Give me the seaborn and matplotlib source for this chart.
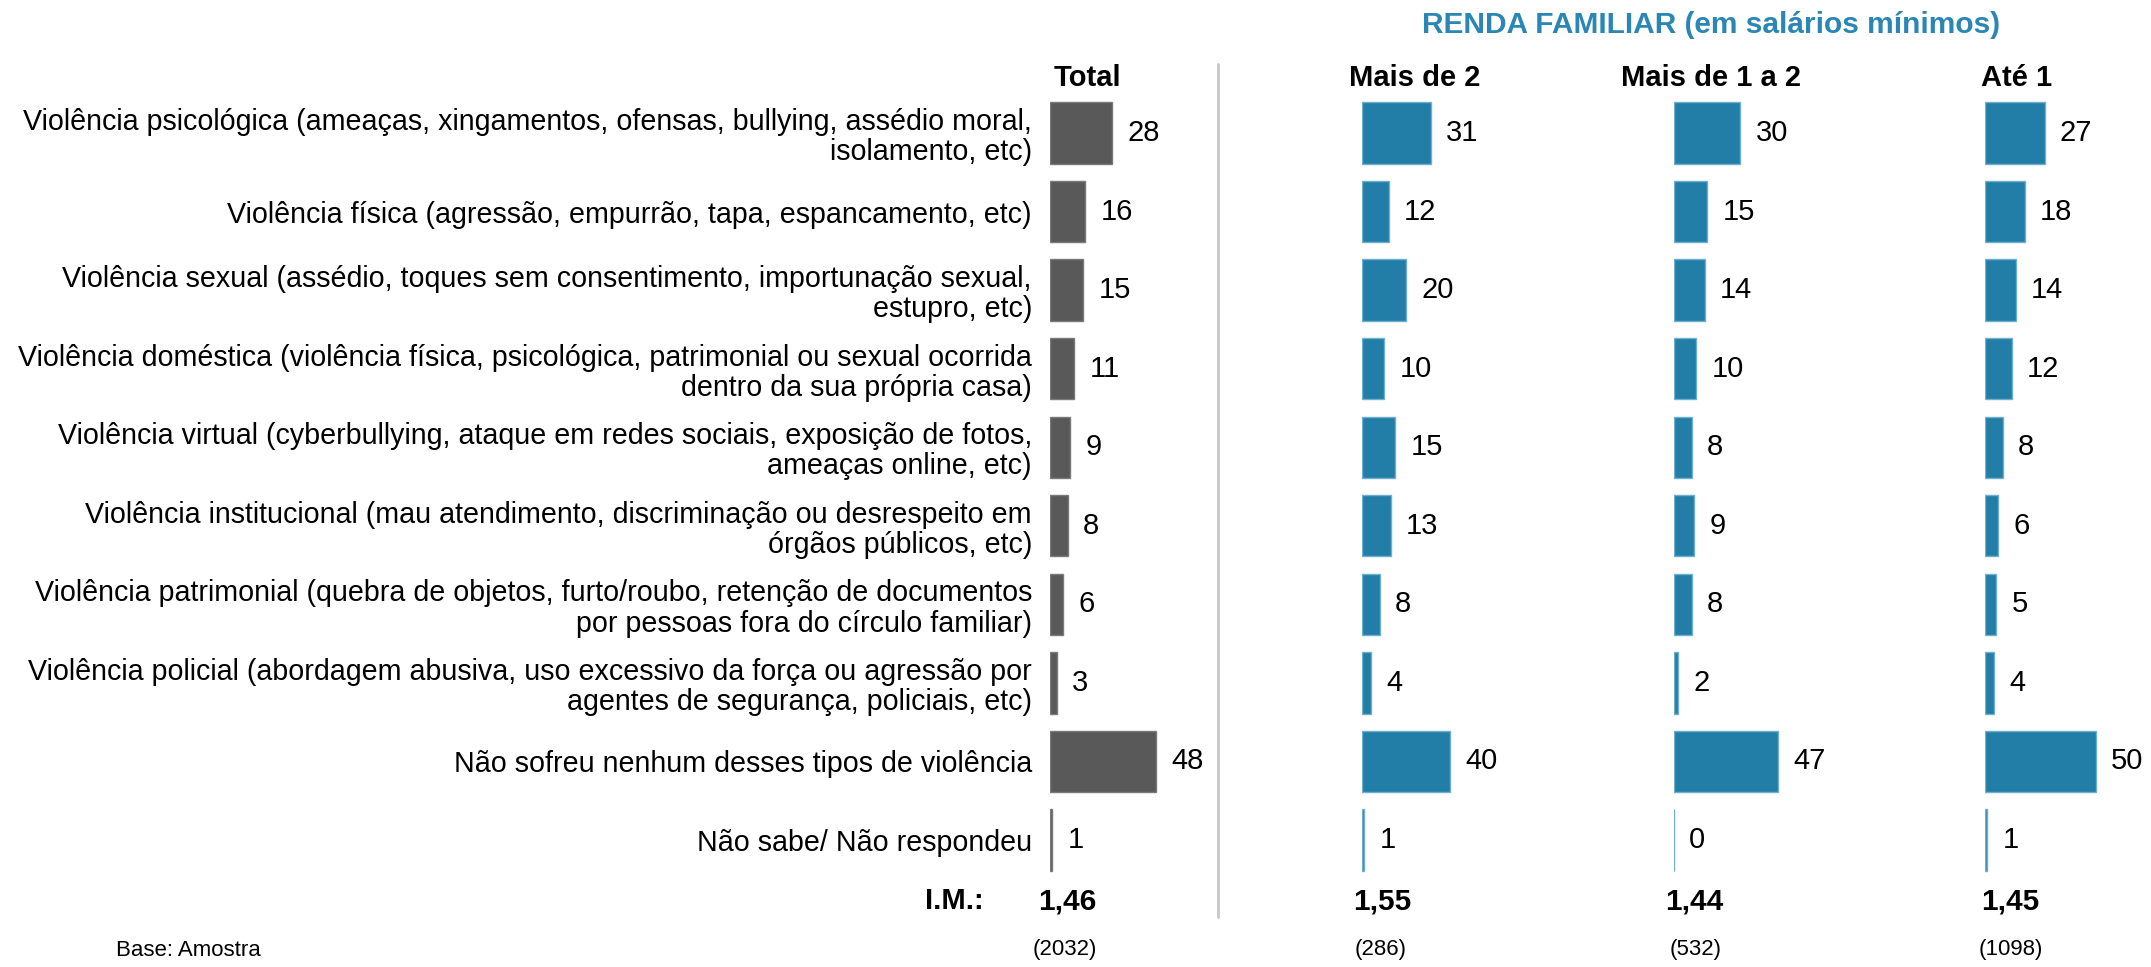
import pandas as pd
import numpy as np
import matplotlib
matplotlib.use("Agg")
import matplotlib.pyplot as plt
from matplotlib.lines import Line2D
import seaborn as sns

categories = [
    "Violência psicológica (ameaças, xingamentos, ofensas, bullying, assédio moral,\nisolamento, etc)",
    "Violência física (agressão, empurrão, tapa, espancamento, etc)",
    "Violência sexual (assédio, toques sem consentimento, importunação sexual,\nestupro, etc)",
    "Violência doméstica (violência física, psicológica, patrimonial ou sexual ocorrida\ndentro da sua própria casa)",
    "Violência virtual (cyberbullying, ataque em redes sociais, exposição de fotos,\nameaças online, etc)",
    "Violência institucional (mau atendimento, discriminação ou desrespeito em\nórgãos públicos, etc)",
    "Violência patrimonial (quebra de objetos, furto/roubo, retenção de documentos\npor pessoas fora do círculo familiar)",
    "Violência policial (abordagem abusiva, uso excessivo da força ou agressão por\nagentes de segurança, policiais, etc)",
    "Não sofreu nenhum desses tipos de violência",
    "Não sabe/ Não respondeu",
]
groups = ["Total", "Mais de 2", "Mais de 1 a 2", "Até 1"]
total = [28, 16, 15, 11, 9, 8, 6, 3, 48, 1]
mais_de_2 = [31, 12, 20, 10, 15, 13, 8, 4, 40, 1]
mais_de_1_a_2 = [30, 15, 14, 10, 8, 9, 8, 2, 47, 0]
ate_1 = [27, 18, 14, 12, 8, 6, 5, 4, 50, 1]
im_values = ["1,46", "1,55", "1,44", "1,45"]
base_values = ["(2032)", "(286)", "(532)", "(1098)"]
title = "RENDA FAMILIAR (em salários mínimos)"

df = pd.DataFrame({"categoria": categories, "Total": total, "Mais de 2": mais_de_2,
                   "Mais de 1 a 2": mais_de_1_a_2, "Até 1": ate_1})
long_df = df.melt(id_vars="categoria", var_name="grupo", value_name="pct")

sns.set_theme(style="white")
plt.rcParams['font.family'] = ['Liberation Sans', 'DejaVu Sans']
plt.rcParams['text.color'] = 'black'
plt.rcParams['ytick.color'] = 'black'

W, H = 2151, 967
fig = plt.figure(figsize=(W / 100, H / 100), dpi=100)

# layout in pixels
panel_left = [1050, 1362, 1674, 1985]
panel_w = 150
px_per_unit = 2.21
ax_top, ax_bot = 93.7, 879.3
colors = ["#595959", "#227DA7", "#227DA7", "#227DA7"]
edges = ["#7a7a7a", "#6FAFCF", "#6FAFCF", "#6FAFCF"]

for i, g in enumerate(groups):
    ax = fig.add_axes([panel_left[i] / W, 1 - ax_bot / H, panel_w / W, (ax_bot - ax_top) / H])
    sub = long_df[long_df["grupo"] == g]
    sns.barplot(data=sub, y="categoria", x="pct", orient="h", color=colors[i],
                width=0.78, ax=ax, edgecolor=edges[i], linewidth=1, saturation=1)
    ax.set_xlim(0, panel_w / px_per_unit)
    ax.set_ylim(9.5, -0.5)
    ax.bar_label(ax.containers[0], padding=11, fontsize=21, color="black")
    for s in ax.spines.values():
        s.set_visible(False)
    ax.set_xticks([])
    ax.set_xlabel("")
    ax.set_ylabel("")
    if i == 0:
        ax.tick_params(axis="y", length=0, pad=13, labelsize=20.6, labelcolor="black")
        for t in ax.get_yticklabels():
            t.set_linespacing(1.1)
    else:
        ax.set_yticks([])

# separator line
fig.add_artist(Line2D([1218 / W, 1218 / W], [1 - 64 / H, 1 - 917 / H],
                      transform=fig.transFigure, color="#C8C8C8", lw=2))

# title + headers
fig.text(1711 / W, 1 - 25 / H, title, ha="center", va="center", fontsize=21.5,
         fontweight="bold", color="#2A86B4")
header_x = [1087, 1415, 1711, 2017]
for x, g in zip(header_x, groups):
    fig.text(x / W, 1 - 78 / H, g, ha="center", va="center", fontsize=21, fontweight="bold")

# I.M. row
fig.text(984 / W, 1 - 901 / H, "I.M.:", ha="right", va="center", fontsize=21, fontweight="bold")
im_x = [1067, 1382, 1694, 2010]
for x, v in zip(im_x, im_values):
    fig.text(x / W, 1 - 901 / H, v, ha="center", va="center", fontsize=21.5, fontweight="bold")

# base row
fig.text(188 / W, 1 - 950 / H, "Base: Amostra", ha="center", va="center", fontsize=16)
base_x = [1065, 1381, 1696, 2011]
for x, v in zip(base_x, base_values):
    fig.text(x / W, 1 - 950 / H, v, ha="center", va="center", fontsize=16)

fig.savefig("out.png", dpi=100)
